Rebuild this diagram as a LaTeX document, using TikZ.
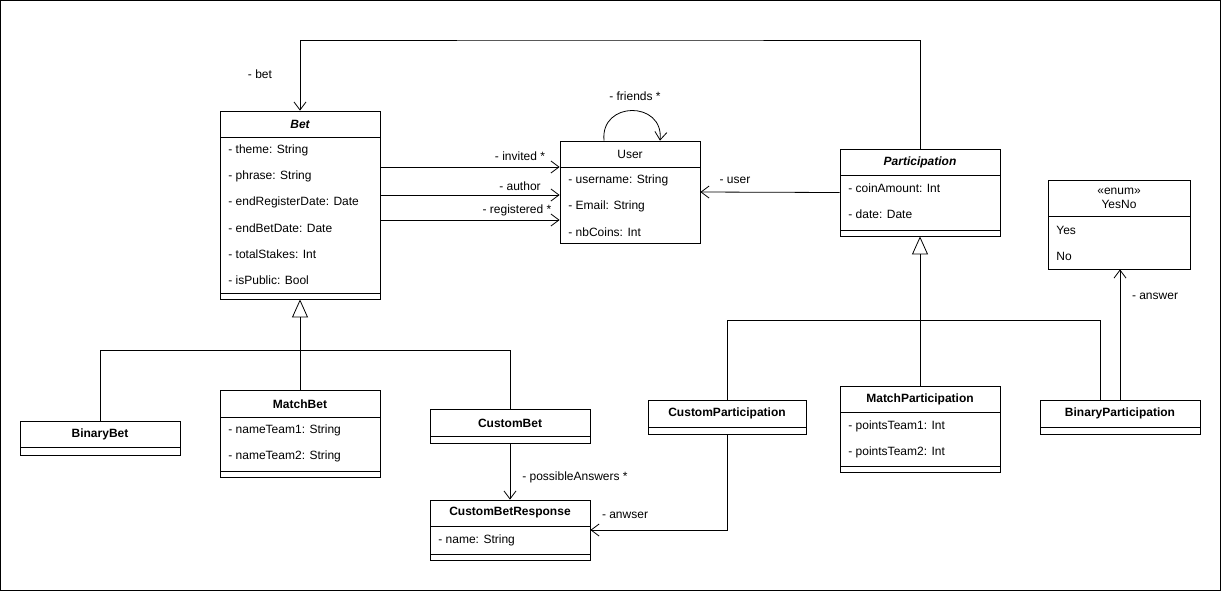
\documentclass[tikz,border=0pt]{standalone}
\usepackage{fontspec}
\setmainfont{Liberation Sans}
\usetikzlibrary{arrows.meta}
\begin{document}
\begin{tikzpicture}[x=0.5pt, y=-0.5pt, font=\fontsize{6}{7}\selectfont]
% estilos del diagrama
\tikzset{
  cls/.style={draw, fill=white, inner sep=0pt},
  attr/.style={anchor=west, inner sep=0pt},
  ttl/.style={inner sep=0pt, font=\fontsize{6}{7}\selectfont\bfseries},
  lbl/.style={inner sep=1pt},
  assoc/.style={-{Straight Barb[length=4pt, width=6pt]}},
  inherit/.style={-{Triangle[open, length=9pt, width=8pt]}, fill=white}
}
\useasboundingbox (0,0) rectangle (1221,591);
\draw (0.5,0.5) rectangle (1220.5,590.5);

% clases
\node[cls, minimum width=80pt, minimum height=94pt] (bet) at (300,205) {};
\node[ttl, font=\fontsize{6}{7}\selectfont\bfseries\itshape] (bet-t) at (300,124) {Bet};
\draw (220,137) -- (380,137) (220,293) -- (380,293);
\foreach \y/\t [count=\i] in {150/theme: String, 176/phrase: String, 202/endRegisterDate: Date, 228/endBetDate: Date, 254/totalStakes: Int, 280/isPublic: Bool}
  \node[attr] (bet-\i) at (228,\y) {- \t};

\node[cls, minimum width=70pt, minimum height=51pt] (user) at (630,192) {};
\node[inner sep=0pt] (user-t) at (630,154) {User};
\draw (560,167) -- (700,167);
\foreach \y/\t [count=\i] in {180/username: String, 206/Email: String, 232/nbCoins: Int}
  \node[attr] (user-\i) at (568,\y) {- \t};

\node[cls, minimum width=80pt, minimum height=43.5pt] (part) at (920,192.5) {};
\node[ttl, font=\fontsize{6}{7}\selectfont\bfseries\itshape] (part-t) at (920,162) {Participation};
\draw (840,175) -- (1000,175) (840,230) -- (1000,230);
\foreach \y/\t [count=\i] in {188/coinAmount: Int, 214/date: Date}
  \node[attr] (part-\i) at (848,\y) {- \t};

\node[cls, minimum width=71pt, minimum height=44.5pt] (yesno) at (1119,224.5) {};
\node[inner sep=0pt, align=center] (yesno-t) at (1119,198) {<<enum>>\\YesNo};
\draw (1048,216) -- (1190,216);
\node[attr] (yesno-1) at (1056,230) {Yes};
\node[attr] (yesno-2) at (1056,256) {No};

\node[cls, minimum width=80pt, minimum height=17pt] (binbet) at (100,438) {};
\node[ttl] (binbet-t) at (100,434) {BinaryBet};
\draw (20,447) -- (180,447);

\node[cls, minimum width=80pt, minimum height=43.5pt] (matchbet) at (300,433.5) {};
\node[ttl] (matchbet-t) at (300,404) {MatchBet};
\draw (220,417) -- (380,417) (220,471) -- (380,471);
\foreach \y/\t [count=\i] in {430/nameTeam1: String, 456/nameTeam2: String}
  \node[attr] (matchbet-\i) at (228,\y) {- \t};

\node[cls, minimum width=80pt, minimum height=17pt] (custbet) at (510,426) {};
\node[ttl] (custbet-t) at (510,423) {CustomBet};
\draw (430,436) -- (590,436);

\node[cls, minimum width=80pt, minimum height=30pt] (resp) at (510,530) {};
\node[ttl] (resp-t) at (510,513) {CustomBetResponse};
\draw (430,526) -- (590,526) (430,554) -- (590,554);
\node[attr] (resp-1) at (438,540) {- name: String};

\node[cls, minimum width=79pt, minimum height=17pt] (cpart) at (727,417) {};
\node[ttl] (cpart-t) at (727,413) {CustomParticipation};
\draw (648,427) -- (806,427);

\node[cls, minimum width=80pt, minimum height=43pt] (mpart) at (920,429) {};
\node[ttl] (mpart-t) at (920,399) {MatchParticipation};
\draw (840,412) -- (1000,412) (840,466) -- (1000,466);
\foreach \y/\t [count=\i] in {426/pointsTeam1: Int, 452/pointsTeam2: Int}
  \node[attr] (mpart-\i) at (848,\y) {- \t};

\node[cls, minimum width=80pt, minimum height=17pt] (bpart) at (1120,417) {};
\node[ttl] (bpart-t) at (1120,413) {BinaryParticipation};
\draw (1040,427) -- (1200,427);

% asociaciones
\coordinate (top) at (610,40);
\draw[assoc] (part.north) |- (top) -| (bet.north);
\node[lbl] (l-bet) at (260,74) {- bet};
\draw[assoc] ([xshift=-13pt]user.north) .. controls +(-2pt,20pt) and +(2pt,20pt) .. ([xshift=15pt]user.north);
\node[lbl] (l-friends) at (635,96) {- friends *};
\draw[assoc] ([yshift=19pt]bet.east) -- ([yshift=12.5pt]user.west);
\node[lbl] (l-invited) at (520,156) {- invited *};
\draw[assoc] ([yshift=5pt]bet.east) -- ([yshift=-1.5pt]user.west);
\node[lbl] (l-author) at (520,186) {- author};
\draw[assoc] ([yshift=-7.5pt]bet.east) -- ([yshift=-14pt]user.west);
\node[lbl] (l-reg) at (517,210) {- registered *};
\draw[assoc] (part.west) -- (user.east);
\node[lbl] (l-user) at (735,180) {- user};
\draw[assoc] (custbet.south) -- (resp.north);
\node[lbl] (l-poss) at (575,477) {- possibleAnswers *};
\draw[assoc] (cpart.south) |- (resp.east);
\node[lbl] (l-anwser) at (625,515) {- anwser};
\draw[assoc] (bpart.north) -- (bpart.north |- yesno.south);
\node[lbl] (l-answer) at (1155,296) {- answer};

% herencia
\coordinate (bj) at (300,350);
\coordinate (pj) at (920,320);
\draw[inherit] (bj) -- (bet.south);
\draw (binbet.north) |- (bj) (custbet.north) |- (bj) (matchbet.north) -- (bj);
\draw[inherit] (pj) -- (part.south);
\draw (cpart.north) |- (pj) ([xshift=-10pt]bpart.north) |- (pj) (mpart.north) -- (pj);
\end{tikzpicture}
\end{document}
